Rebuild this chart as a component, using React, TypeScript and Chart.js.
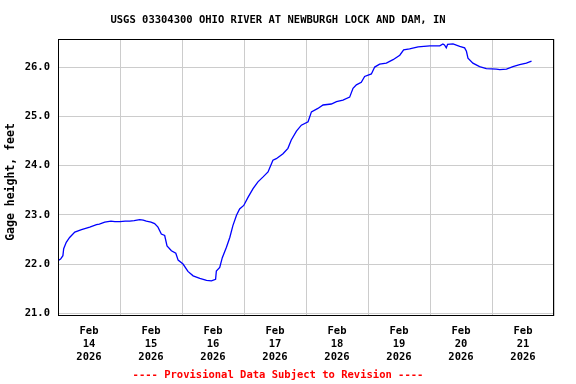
import React, { useEffect, useRef } from 'react';
import { Chart, registerables } from 'chart.js';

Chart.register(...registerables);

const TITLE = 'USGS 03304300 OHIO RIVER AT NEWBURGH LOCK AND DAM, IN';
const Y_TITLE = 'Gage height, feet';
const FOOTER = '---- Provisional Data Subject to Revision ----';
const MONTH = 'Feb';
const YEAR = '2026';
const DAY_LABELS = ['14', '15', '16', '17', '18', '19', '20', '21'];
const Y_TICKS = [21, 22, 23, 24, 25, 26];

// hours since Feb 14 2026 00:00
const HOURS = [
  0, 1.0, 1.9, 2.2, 3.2, 4.5, 6.5, 9.1, 12.3, 14.9, 16.0, 18.1, 20.5, 22.0, 24.0, 26.0,
  27.8, 29.5, 31.6, 33.0, 34.2, 36.0, 37.4, 38.7, 40.0, 41.3, 42.2, 43.9, 45.6, 46.5,
  48.4, 50.3, 52.3, 54.9, 57.5, 59.4, 61.0, 61.3, 62.6, 63.6, 65.2, 66.5, 67.7, 69.1,
  70.3, 71.9, 73.6, 75.5, 77.4, 79.4, 81.3, 83.2, 84.5, 87.1, 89.0, 90.3, 92.3, 94.2,
  96.8, 98.1, 100.6, 102.6, 105.8, 107.8, 110.3, 112.9, 114.2, 115.5, 117.4, 118.7,
  121.3, 122.6, 124.5, 127.1, 129.7, 132.3, 133.8, 136.1, 139.4, 143.9, 147.8, 149.0,
  149.6, 150.3, 150.8, 152.9, 155.5, 157.4, 158.1, 158.7, 160.6, 163.2, 165.8, 169.7,
  171.0, 173.6, 176.1, 178.7, 181.3, 183.3,
];

const HEIGHTS = [
  22.07, 22.10, 22.17, 22.31, 22.44, 22.54, 22.65, 22.70, 22.75, 22.80, 22.81, 22.85, 22.87, 22.86, 22.86, 22.87,
  22.87, 22.88, 22.90, 22.89, 22.87, 22.85, 22.82, 22.75, 22.61, 22.58, 22.37, 22.27, 22.22, 22.08,
  22.00, 21.85, 21.76, 21.71, 21.67, 21.66, 21.69, 21.86, 21.93, 22.13, 22.34, 22.54, 22.78, 22.99,
  23.12, 23.19, 23.36, 23.53, 23.67, 23.77, 23.87, 24.11, 24.14, 24.24, 24.35, 24.52, 24.70, 24.82,
  24.89, 25.09, 25.16, 25.23, 25.25, 25.30, 25.33, 25.39, 25.57, 25.64, 25.69, 25.81,
  25.86, 26.00, 26.06, 26.08, 26.15, 26.24, 26.35, 26.37, 26.41, 26.43, 26.43, 26.47,
  26.45, 26.39, 26.46, 26.47, 26.42, 26.39, 26.32, 26.18, 26.08, 26.01, 25.97, 25.96,
  25.95, 25.96, 26.01, 26.05, 26.08, 26.12,
];

const FONT = "'DejaVu Sans Mono', monospace";

const overlay = {
  id: 'overlay',
  afterDraw(chart: any) {
    const { ctx, chartArea: a } = chart;
    ctx.save();
    ctx.strokeStyle = '#000000';
    ctx.lineWidth = 1;
    ctx.strokeRect(Math.round(a.left) + 0.5, Math.round(a.top) + 0.5,
      Math.round(a.right - a.left) - 1, Math.round(a.bottom - a.top) - 1);

    ctx.fillStyle = '#000000';
    ctx.font = `bold 10.5px ${FONT}`;
    ctx.textAlign = 'center';
    ctx.textBaseline = 'middle';
    ctx.fillText(TITLE, 278, 20);

    ctx.fillStyle = '#ff0000';
    ctx.fillText(FOOTER, 278, 375);

    ctx.fillStyle = '#000000';
    ctx.font = `bold 11.5px ${FONT}`;
    ctx.translate(11, 182);
    ctx.rotate(-Math.PI / 2);
    ctx.fillText(Y_TITLE, 0, 0);
    ctx.restore();
  },
};

export default function App() {
  const ref = useRef<HTMLCanvasElement>(null);

  useEffect(() => {
    if (!ref.current) return;
    const tickFont = { family: FONT, size: 10.5, weight: 'bold' as const, lineHeight: '13px' };
    const chart = new Chart(ref.current, {
      type: 'line',
      data: {
        datasets: [
          {
            data: HOURS.map((h, i) => ({ x: h, y: HEIGHTS[i] })),
            borderColor: '#0000ff',
            borderWidth: 1.3,
            pointRadius: 0,
            fill: false,
            tension: 0,
          },
        ],
      },
      options: {
        animation: false,
        responsive: false,
        maintainAspectRatio: false,
        layout: { padding: { top: 39, right: 22, left: 0, bottom: 0 } },
        plugins: { legend: { display: false }, tooltip: { enabled: false }, title: { display: false } },
        scales: {
          x: {
            type: 'linear',
            min: 0,
            max: 192,
            afterBuildTicks: (s: any) => {
              s.ticks = Array.from({ length: 17 }, (_, i) => ({ value: i * 12 }));
            },
            afterFit: (s: any) => {
              s.height = 68;
            },
            grid: {
              color: (c: any) => (c.tick && c.tick.value % 24 === 0 ? '#cccccc' : 'rgba(0,0,0,0)'),
              drawTicks: false,
              lineWidth: 1,
            },
            border: { display: false },
            ticks: {
              autoSkip: false,
              maxRotation: 0,
              minRotation: 0,
              padding: 9,
              color: '#000000',
              font: tickFont,
              callback: (v: any) => (v % 24 === 12 ? [MONTH, DAY_LABELS[(v - 12) / 24], YEAR] : ''),
            },
          },
          y: {
            min: 20.945,
            max: 26.57,
            afterBuildTicks: (s: any) => {
              s.ticks = Y_TICKS.map((v) => ({ value: v }));
            },
            afterFit: (s: any) => {
              s.width = 58;
            },
            grid: { color: '#cccccc', drawTicks: false, lineWidth: 1 },
            border: { display: false },
            ticks: {
              padding: 8,
              color: '#000000',
              font: tickFont,
              callback: (v: any) => Number(v).toFixed(1),
            },
          },
        },
      },
      plugins: [overlay],
    });
    return () => chart.destroy();
  }, []);

  return (
    <div style={{ position: 'absolute', left: 0, top: 0, width: 576, height: 384, background: '#ffffff' }}>
      <canvas ref={ref} width={576} height={384} style={{ display: 'block' }} />
    </div>
  );
}
